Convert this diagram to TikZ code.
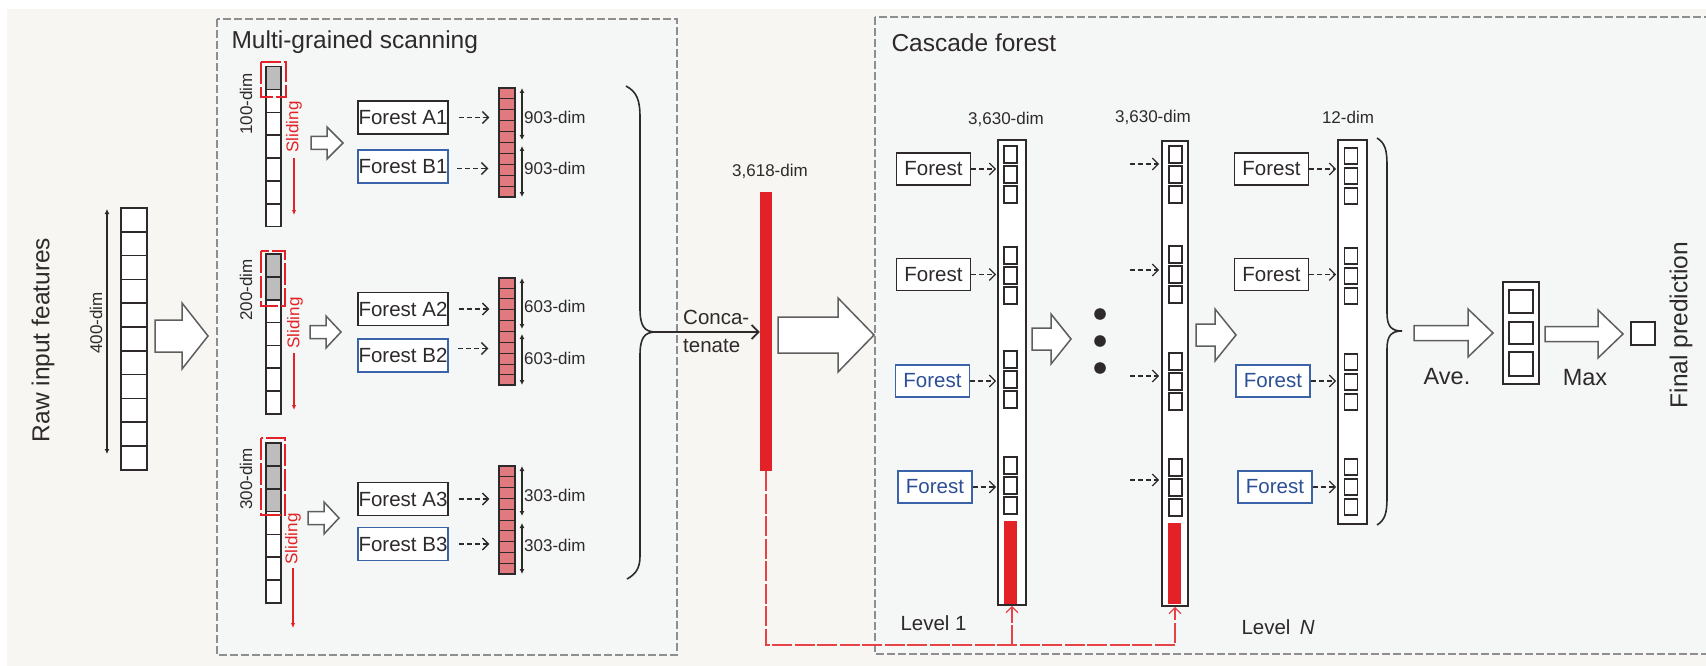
\documentclass[tikz,border=0pt]{standalone}
\usepackage{fontspec}
\setmainfont{Liberation Sans}
\usetikzlibrary{arrows.meta,calc}

\definecolor{ink}{HTML}{2E2A2B}
\definecolor{paper}{HTML}{F8F6F2}
\definecolor{panel}{HTML}{F5F7F6}
\definecolor{frame}{HTML}{8E8E8E}
\definecolor{fblue}{HTML}{3B63AA}
\definecolor{tblue}{HTML}{2C4F96}
\definecolor{hot}{HTML}{E32227}
\definecolor{pink}{HTML}{E07A7E}
\definecolor{cellgray}{HTML}{BDBDBD}
\definecolor{arrowgray}{HTML}{5E5E5E}

\newcommand\fsTitle{\fontsize{24.5}{28}\selectfont}
\newcommand\fsBig{\fontsize{23.5}{28}\selectfont}
\newcommand\fsMid{\fontsize{20.5}{28}\selectfont}
\newcommand\fsSmall{\fontsize{17}{20}\selectfont}

\tikzset{
  every node/.style={text=ink},
  panelbox/.style={draw=frame, fill=panel, dash pattern=on 8pt off 3pt, line width=1.2pt},
  cell/.style={draw=ink, line width=1.6pt, fill=white},
  sep/.style={draw=ink, line width=1pt},
  fbox/.style={draw=ink, fill=white, line width=1.6pt, minimum width=90pt,
    minimum height=33pt, inner sep=0pt, font=\fsMid},
  fcbox/.style={draw=ink, fill=white, line width=1.6pt, minimum width=74pt,
    minimum height=32pt, inner sep=0pt, font=\fsMid},
  bluebox/.style={draw=fblue},
  pinkcol/.style={draw=ink, fill=pink, line width=1.4pt, minimum width=16pt, inner sep=0pt},
  colbox/.style={draw=ink, fill=white, line width=1.6pt, inner sep=0pt},
  window/.style={draw=hot, line width=1.3pt, dash pattern=on 22pt off 3pt},
  slide/.style={draw=hot, line width=1.1pt, -{Latex[length=5pt,width=4.5pt]}},
  dasharrow/.style={draw=ink, line width=1.3pt, dash pattern=on 5pt off 3pt,
    -{Straight Barb[length=6pt,width=12pt]}},
  dimarrow/.style={draw=ink, line width=1.1pt,
    {Latex[length=5pt,width=5pt]}-{Latex[length=5pt,width=5pt]}},
  concat/.style={draw=ink, line width=1.8pt, -{Straight Barb[length=7pt,width=14pt]}},
  brace/.style={draw=ink, line width=1.6pt},
  hollow/.style={draw=arrowgray, fill=white, line width=1.5pt, line join=miter},
  fbline/.style={draw=hot!85!white, line width=1.3pt, dash pattern=on 20pt off 2.5pt,
    -{Straight Barb[length=6pt,width=12pt]}}
}

% block arrow: start x, head x, tip x, centre y, shaft half height, head half height
\newcommand\hollowarrow[6]{%
  \draw[hollow] (#1,{#4-#5}) -- (#2,{#4-#5}) -- (#2,{#4-#6}) -- (#3,#4)
    -- (#2,{#4+#6}) -- (#2,{#4+#5}) -- (#1,{#4+#5}) -- cycle;}

% column of seven scanning cells: top y, number of shaded cells
\newcommand\scancol[2]{%
  \foreach \i in {0,...,6}{%
    \pgfmathsetmacro\yy{#1+\i*22.85}%
    \ifnum\i<#2\relax\def\cellfill{cellgray}\else\def\cellfill{white}\fi
    \draw[cell,fill=\cellfill] (266,\yy) rectangle (281,{\yy+22.85});
  }}

% separators of a class-vector column
\newcommand\pinksplit[1]{%
  \foreach \k in {1,...,9}{%
    \draw[sep] ($(#1.north west)!\k/10!(#1.south west)$) -- ($(#1.north east)!\k/10!(#1.south east)$);
  }}

% three stacked class-probability squares: centre x, top y, height
\newcommand\sqgroup[3]{%
  \foreach \j in {0,1,2}{%
    \draw[cell] ({#1-6.5},{#2+\j*20}) rectangle ({#1+6.5},{#2+\j*20+#3});
  }}

\begin{document}
\begin{tikzpicture}[x=1pt,y=-1pt]
\useasboundingbox (0,0) rectangle (1706,666);
\clip (0,0) rectangle (1706,666);
\fill[white] (0,0) rectangle (1706,666);
\fill[paper] (7,9) rectangle (1706,666);

% panels
\draw[panelbox] (217,19) rectangle (677,655);
\draw[panelbox] (875,17) rectangle (1740,654);
\node[anchor=west, font=\fsTitle] (mgs) at (228,42) {Multi-grained scanning};
\node[anchor=west, font=\fsTitle] (cft) at (888,43) {Cascade forest};

% raw input features
\node[rotate=90, font=\fsTitle] (rawlbl) at (43,340) {Raw input features};
\foreach \i in {0,...,10}
  \draw[cell] (121,{208+\i*23.8}) rectangle (147,{208+(\i+1)*23.8});
\coordinate (rawtop) at (107,209);
\coordinate (rawbot) at (107,454);
\draw[dimarrow] (rawtop) -- (rawbot);
\node[rotate=90, font=\fsSmall] at (96,323) {400-dim};
\hollowarrow{155}{182}{208}{336}{16}{33}

% ---------- multi-grained scanning ----------
% window 100
\scancol{66.7}{1}
\draw[window] (261,62) rectangle (286,97);
\node[rotate=90, font=\fsSmall] at (246,104) {100-dim};
\node[rotate=90, font=\fsSmall, text=hot] at (294,127) {Sliding};
\draw[slide] (294,158) -- (294,215);
\hollowarrow{311}{327}{343}{143}{6.5}{16}
\node[fbox] (fa1) at (403,117.5) {Forest A1};
\node[fbox, bluebox] (fb1) at (403,166.5) {Forest B1};
\node[pinkcol, minimum height=109pt] (rc1) at (507,142.5) {};
\pinksplit{rc1}
\draw[dasharrow, shorten <=10pt, shorten >=9pt] (fa1.east) -- (fa1.east -| rc1.west);
\draw[dasharrow, shorten <=8pt, shorten >=10pt] ([yshift=-2]fb1.east) -- ([yshift=-2]fb1.east -| rc1.west);
\draw[dimarrow] (522,88) -- (522,140);
\draw[dimarrow] (522,146) -- (522,197);
\node[anchor=west, font=\fsSmall, inner sep=1pt] at (523,117) {903-dim};
\node[anchor=west, font=\fsSmall, inner sep=1pt] at (523,168) {903-dim};

% window 200
\scancol{254}{2}
\draw[window] (261,251) rectangle (285,306);
\node[rotate=90, font=\fsSmall] at (246,290) {200-dim};
\node[rotate=90, font=\fsSmall, text=hot] at (295,323) {Sliding};
\draw[slide] (294,353) -- (294,410);
\hollowarrow{310}{326}{341}{332}{6.5}{16}
\node[fbox] (fa2) at (403,309) {Forest A2};
\node[fbox, bluebox] (fb2) at (403,355.5) {Forest B2};
\node[pinkcol, minimum height=107pt] (rc2) at (507,331.5) {};
\pinksplit{rc2}
\draw[dasharrow, shorten <=10pt, shorten >=9pt] (fa2.east) -- (fa2.east -| rc2.west);
\draw[dasharrow, shorten <=9pt, shorten >=10pt] ([yshift=7]fb2.east) -- ([yshift=7]fb2.east -| rc2.west);
\draw[dimarrow] (522,278) -- (522,329);
\draw[dimarrow] (522,334) -- (522,385);
\node[anchor=west, font=\fsSmall, inner sep=1pt] at (523,306) {603-dim};
\node[anchor=west, font=\fsSmall, inner sep=1pt] at (523,358) {603-dim};

% window 300
\scancol{443}{3}
\draw[window] (261,438) rectangle (285,515);
\node[rotate=90, font=\fsSmall] at (246,479) {300-dim};
\node[rotate=90, font=\fsSmall, text=hot] at (293,539) {Sliding};
\draw[slide] (293,568) -- (293,628);
\hollowarrow{308}{324}{339}{518}{6.5}{16}
\node[fbox] (fa3) at (403,499) {Forest A3};
\node[fbox, bluebox] (fb3) at (403,544) {Forest B3};
\node[pinkcol, minimum height=108pt] (rc3) at (507,520) {};
\pinksplit{rc3}
\draw[dasharrow, shorten <=10pt, shorten >=9pt] (fa3.east) -- (fa3.east -| rc3.west);
\draw[dasharrow, shorten <=10pt, shorten >=9pt] (fb3.east) -- (fb3.east -| rc3.west);
\draw[dimarrow] (522,466) -- (522,516);
\draw[dimarrow] (522,523) -- (522,574);
\node[anchor=west, font=\fsSmall, inner sep=1pt] at (523,495) {303-dim};
\node[anchor=west, font=\fsSmall, inner sep=1pt] at (523,545) {303-dim};

% brace and concatenation
\coordinate (tip1) at (656,332);
\draw[brace] (626,86) .. controls (637,92) and (640,100) .. (640,118) -- (640,308)
  .. controls (640,326) and (644,332) .. (tip1);
\draw[brace] (tip1) .. controls (644,332) and (640,338) .. (640,356) -- (640,556)
  .. controls (640,568) and (636,574) .. (627,579);
\node[fill=hot, minimum width=12pt, minimum height=279pt, inner sep=0pt] (rbar) at (766,331.5) {};
\draw[concat] (tip1) -- (rbar.west |- tip1);
\node[font=\fsSmall] at (770,171) {3,618-dim};
\node[anchor=west, align=left, font=\fsMid, inner sep=0pt] (cct) at (683,331) {Conca-\\tenate};
\hollowarrow{778}{838}{874}{335}{18}{37}

% ---------- cascade forest ----------
\node[colbox, minimum width=28pt, minimum height=465pt] (L1) at (1012,372.5) {};
\node[colbox, minimum width=26pt, minimum height=465pt] (LN) at (1175,373.5) {};
\node[colbox, minimum width=29pt, minimum height=384pt] (L12) at (1352.5,332) {};
\foreach \t in {146,247,351,457} \sqgroup{1010.5}{\t}{17}
\foreach \t in {146,246,353,459} \sqgroup{1175.5}{\t}{17}
\foreach \t in {148,248,354,459} \sqgroup{1351}{\t}{16}
\fill[hot] (1003.5,521) rectangle (1016.5,604);
\fill[hot] (1167.5,523) rectangle (1180.5,604);

\node[font=\fsSmall] at (1006,119) {3,630-dim};
\node[font=\fsSmall] at (1153,117) {3,630-dim};
\node[font=\fsSmall] at (1348,117) {12-dim};

% level 1 forests
\node[fcbox] (c1a) at (933.5,169) {Forest};
\node[fcbox] (c1b) at (933.5,274.5) {Forest};
\node[fcbox, bluebox, text=tblue] (c1c) at (932.5,381) {Forest};
\node[fcbox, bluebox, text=tblue] (c1d) at (935,487) {Forest};
\foreach \n in {c1a,c1b,c1c,c1d}
  \draw[dasharrow, shorten >=1pt] (\n.east) -- (\n.east -| L1.west);

% level N inputs
\coordinate (n1) at (1130,164);
\coordinate (n2) at (1130,270);
\coordinate (n3) at (1130,376);
\coordinate (n4) at (1130,480);
\foreach \n in {n1,n2,n3,n4}
  \draw[dasharrow, shorten >=2pt] (\n) -- (\n -| LN.west);

% last level forests
\node[fcbox] (c3a) at (1271.5,169) {Forest};
\node[fcbox] (c3b) at (1271.5,274.5) {Forest};
\node[fcbox, bluebox, text=tblue] (c3c) at (1273,381) {Forest};
\node[fcbox, bluebox, text=tblue] (c3d) at (1275,487) {Forest};
\foreach \n in {c3a,c3b,c3c,c3d}
  \draw[dasharrow, shorten >=1pt] (\n.east) -- (\n.east -| L12.west);

% between levels
\hollowarrow{1032}{1051}{1071}{339}{11}{25}
\hollowarrow{1196}{1215}{1236}{335}{11}{26}
\foreach \y in {314,341,368} \fill[ink] (1100,\y) circle (5.8pt);

% output stage
\coordinate (tip2) at (1402,331);
\draw[brace] (1377,138) .. controls (1385,143) and (1387,150) .. (1387,165) -- (1387,313)
  .. controls (1387,326) and (1391,331) .. (tip2);
\draw[brace] (tip2) .. controls (1391,331) and (1387,336) .. (1387,349) -- (1387,498)
  .. controls (1387,513) and (1385,520) .. (1377,525);
\hollowarrow{1414}{1468}{1493}{333}{7.5}{24}
\node[font=\fsBig] at (1447,377) {Ave.};
\node[colbox, minimum width=36pt, minimum height=102pt] (avg) at (1521,333) {};
\draw[cell] (1509,290) rectangle (1533,313);
\draw[cell] (1509,322) rectangle (1533,344);
\draw[cell] (1509,352) rectangle (1533,376);
\hollowarrow{1545}{1598}{1623}{334}{7.5}{24}
\node[font=\fsBig] at (1585,378) {Max};
\node[colbox, minimum width=24pt, minimum height=23pt] (final) at (1643,333.5) {};
\node[rotate=90, font=\fsTitle] at (1681,325) {Final prediction};

\node[anchor=west, font=\fsMid] at (897,623) {Level 1};
\node[anchor=west, font=\fsMid] at (1238,627) {Level\hspace{0.45em}\textit{N}};

% feedback of the concatenated vector
\coordinate (fbY) at (0,645);
\draw[fbline] (rbar.south) |- (fbY -| LN.south) -- (LN.south);
\draw[fbline] (fbY -| L1.south) -- (L1.south);
\end{tikzpicture}
\end{document}
